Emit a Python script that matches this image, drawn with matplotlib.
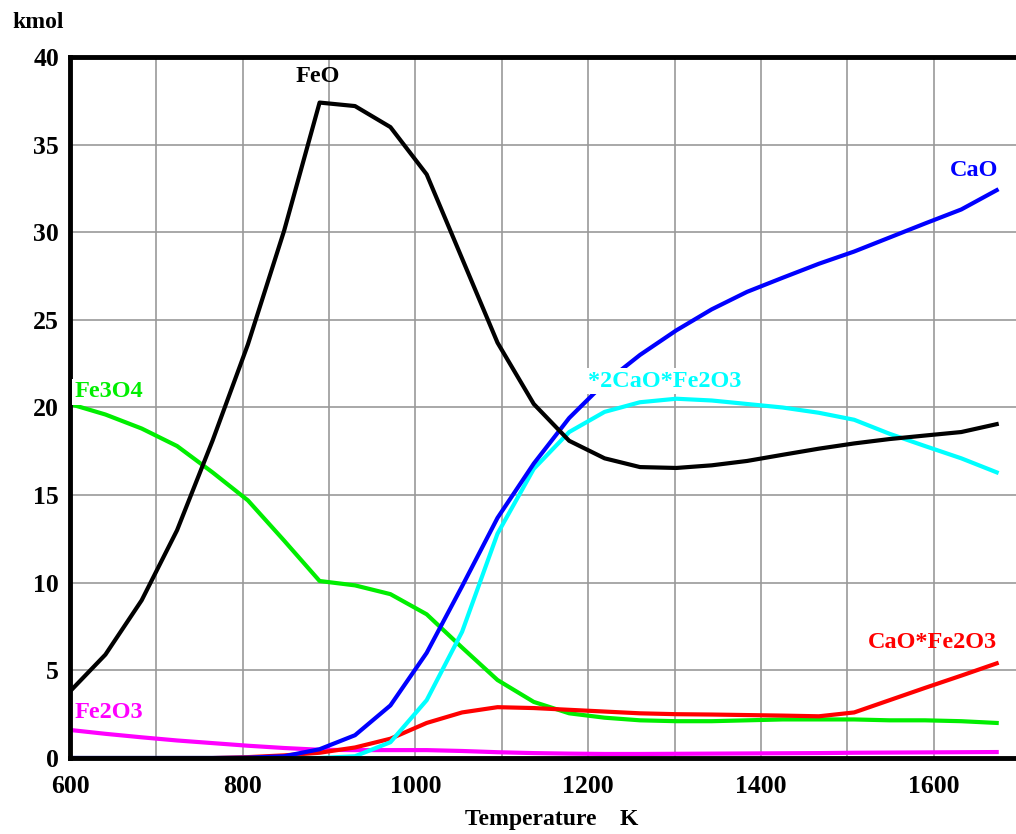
import matplotlib
matplotlib.use("Agg")
import matplotlib.pyplot as plt

plt.rcParams['font.family'] = ['Liberation Serif', 'DejaVu Serif']
plt.rcParams['font.weight'] = 'bold'

temps = [600, 641, 683, 724, 765, 806, 848, 889, 930, 971, 1013, 1054, 1095,
         1137, 1178, 1219, 1260, 1302, 1343, 1384, 1425, 1467, 1508, 1549,
         1590, 1632, 1673]

feo = [3.8, 5.9, 9.0, 13.0, 18.1, 23.6, 30.1, 37.4, 37.2, 36.0, 33.3, 28.5, 23.7,
       20.2, 18.1, 17.1, 16.6, 16.55, 16.7, 16.95, 17.3, 17.65, 17.95, 18.2,
       18.4, 18.6, 19.05]
cao = [0.0, 0.0, 0.0, 0.0, 0.0, 0.02, 0.1, 0.5, 1.3, 3.0, 6.0, 9.8, 13.7,
       16.8, 19.4, 21.4, 23.0, 24.4, 25.6, 26.6, 27.4, 28.2, 28.9, 29.7,
       30.5, 31.3, 32.4]
ca2fe = [0.0, 0.0, 0.0, 0.0, 0.0, 0.0, 0.0, 0.0, 0.1, 0.9, 3.3, 7.2, 12.8,
         16.5, 18.6, 19.75, 20.3, 20.5, 20.4, 20.2, 20.0, 19.7, 19.3, 18.5,
         17.8, 17.1, 16.3]
fe3o4 = [20.2, 19.6, 18.8, 17.8, 16.3, 14.7, 12.4, 10.1, 9.85, 9.35, 8.2, 6.3, 4.45,
         3.2, 2.55, 2.3, 2.15, 2.1, 2.1, 2.15, 2.2, 2.2, 2.2, 2.15,
         2.15, 2.1, 2.0]
cafe = [0.0, 0.0, 0.0, 0.0, 0.0, 0.05, 0.15, 0.3, 0.6, 1.1, 2.0, 2.6, 2.9,
        2.85, 2.75, 2.65, 2.55, 2.5, 2.48, 2.45, 2.42, 2.38, 2.6, 3.3,
        4.0, 4.7, 5.4]
fe2o3 = [1.6, 1.38, 1.18, 1.0, 0.85, 0.7, 0.57, 0.47, 0.45, 0.45, 0.45, 0.4, 0.33,
         0.28, 0.25, 0.23, 0.23, 0.24, 0.25, 0.26, 0.27, 0.28, 0.3, 0.31,
         0.32, 0.33, 0.34]

fig = plt.figure(figsize=(10.16, 8.34), dpi=100)
ax = fig.add_axes([70 / 1016, 76 / 834, 950 / 1016, 701 / 834])

lw = 3.0
ax.plot(temps, fe2o3, color="#ff00ff", lw=lw)
ax.plot(temps, fe3o4, color="#00ee00", lw=lw)
ax.plot(temps, cafe, color="#ff0000", lw=lw)
ax.plot(temps, ca2fe, color="#00ffff", lw=lw)
ax.plot(temps, cao, color="#0000ff", lw=lw)
ax.plot(temps, feo, color="black", lw=lw)

ax.set_xlim(600, 1700)
ax.set_ylim(0, 40)
ax.set_xticks([600, 800, 1000, 1200, 1400, 1600])
ax.set_xticks(range(600, 1700, 100), minor=True)
ax.set_yticks(range(0, 41, 5))
ax.grid(True, which="both", color="#999999", lw=1.2)
ax.set_axisbelow(True)
ax.tick_params(which="both", length=0, labelsize=18.5)
ax.tick_params(axis="x", pad=12)
ax.tick_params(axis="y", pad=8)
for s in ["left", "bottom", "top"]:
    ax.spines[s].set_linewidth(3.5)
ax.spines["right"].set_visible(False)

lab = dict(fontsize=17.5, fontweight="bold", zorder=5)
box = dict(facecolor="white", edgecolor="none", pad=2)
ax.text(887, 38.3, "FeO", color="black", ha="center", va="bottom", **lab)
ax.text(1675, 32.9, "CaO", color="#0000ff", ha="right", va="bottom", **lab)
ax.text(1200, 20.9, "*2CaO*Fe2O3", color="#00ffff", ha="left", va="bottom", bbox=box, **lab)
ax.text(605, 20.3, "Fe3O4", color="#00ee00", ha="left", va="bottom", bbox=box, **lab)
ax.text(1673, 6.0, "CaO*Fe2O3", color="#ff0000", ha="right", va="bottom", **lab)
ax.text(605, 2.0, "Fe2O3", color="#ff00ff", ha="left", va="bottom", **lab)

fig.text(12 / 1016, 1 - 22 / 834, "kmol", fontsize=17, fontweight="bold", va="center")
fig.text(552 / 1016, 1 - 820 / 834, "Temperature    K", fontsize=17,
         fontweight="bold", ha="center", va="center")

fig.savefig("out.png", dpi=100)
